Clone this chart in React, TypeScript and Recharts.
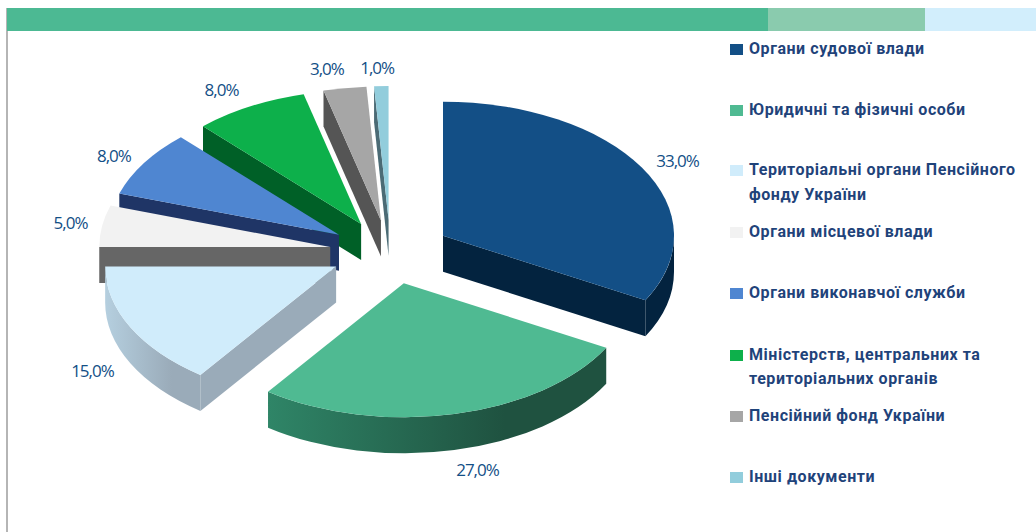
import { Legend, Pie, PieChart } from 'recharts';

const categories = [
  'Органи судової влади',
  'Юридичні та фізичні особи',
  'Територіальні органи Пенсійного фонду України',
  'Органи місцевої влади',
  'Органи виконавчої служби',
  'Міністерств, центральних та територіальних органів',
  'Пенсійний фонд України',
  'Інші документи',
];
const shares = [33, 27, 15, 5, 8, 8, 3, 1];
const topColors = ['#134f86', '#4fba92', '#d0ecfb', '#f2f2f2', '#4f86d1', '#0db04b', '#a6a6a6', '#92cddc'];
const wallColors = ['#03233f', '#1f5240', '#9aabb9', '#666666', '#1f3566', '#006027', '#555555', '#4b6b75'];
const rimColors = ['#03233f', '#2f8567', '#b5cfdf', '#666666', '#1f3566', '#006027', '#555555', '#4b6b75'];

// px tweaks, the source picture is not a perfect projection
const labelNudgeX = [3, 15, -4, 6, 2, -10, -12, -3];
const labelNudgeY = [3, 0, -2, 0, 3, 0, 0, 1];
const legendGaps = [36.5, 35.5, 12.5, 36.5, 37.5, 12.5, 36.5, 0];

const RX = 231;
const RY = 134;
const DEPTH = 36;
const EXPLODE_X = 61;
const EXPLODE_Y = 32;
const rad = (a: number) => (a * Math.PI) / 180;

// Pie paints in data order, the back slices have to go first
const pieData = categories
  .map((name, i) => ({ name, value: shares[i], index: i, fill: topColors[i] }))
  .reverse();

const Slice3D = (props: any) => {
  const { cx, cy, startAngle, endAngle, fill, payload } = props;
  const i = payload.index;
  const mid = rad((startAngle + endAngle) / 2);
  const ax = cx + EXPLODE_X * Math.cos(mid);
  const ay = cy - EXPLODE_Y * Math.sin(mid);
  const px = (a: number) => ax + RX * Math.cos(rad(a));
  const py = (a: number) => ay - RY * Math.sin(rad(a));
  const large = endAngle - startAngle > 180 ? 1 : 0;

  const top = `M${ax},${ay} L${px(startAngle)},${py(startAngle)} A${RX},${RY} 0 ${large} 0 ${px(endAngle)},${py(endAngle)} Z`;
  const wall = (a: number) =>
    `M${ax},${ay} L${px(a)},${py(a)} L${px(a)},${py(a) + DEPTH} L${ax},${ay + DEPTH} Z`;

  const rimFrom = Math.max(startAngle, 180);
  const rimTo = Math.min(endAngle, 360);
  const hasRim = rimTo > rimFrom;
  const rim = `M${px(rimFrom)},${py(rimFrom)} A${RX},${RY} 0 0 0 ${px(rimTo)},${py(rimTo)} L${px(rimTo)},${py(rimTo) + DEPTH} A${RX},${RY} 0 0 1 ${px(rimFrom)},${py(rimFrom) + DEPTH} Z`;
  const gradId = `rim-${i}`;

  return (
    <g>
      <defs>
        <linearGradient id={gradId} x1="0" y1="0" x2="1" y2="0">
          <stop offset="0%" stopColor={rimColors[i]} />
          <stop offset="70%" stopColor={wallColors[i]} />
        </linearGradient>
      </defs>
      {hasRim && <path d={rim} fill={`url(#${gradId})`} />}
      {Math.cos(rad(startAngle)) > 0.01 && <path d={wall(startAngle)} fill={wallColors[i]} />}
      {Math.cos(rad(endAngle)) < -0.01 && <path d={wall(endAngle)} fill={wallColors[i]} />}
      <path d={top} fill={fill} />
    </g>
  );
};

const renderLabel = (props: any) => {
  const { cx, cy, midAngle, payload } = props;
  const s = Math.sin(rad(midAngle));
  const c = Math.cos(rad(midAngle));
  const x = cx + (EXPLODE_X + RX + 38) * c + labelNudgeX[payload.index];
  const y = cy - (EXPLODE_Y + RY + 20) * s + (s < 0 ? DEPTH : 0) + labelNudgeY[payload.index];
  return (
    <text
      x={x}
      y={y}
      textAnchor="middle"
      dominantBaseline="central"
      fontFamily="Open Sans"
      fontSize={17}
      letterSpacing={-1}
      fill="#134f86"
    >
      {`${payload.value.toFixed(1).replace('.', ',')}%`}
    </text>
  );
};

const LegendList = ({ payload }: any) => (
  <div>
    {[...(payload ?? [])].reverse().map((entry: any, i: number) => (
      <div key={entry.value} style={{ display: 'flex', marginBottom: legendGaps[i] }}>
        <span
          style={{
            flex: 'none',
            width: 13,
            height: 11,
            marginTop: 7,
            marginRight: 6,
            background: entry.color,
          }}
        />
        <span
          style={{
            fontFamily: 'Roboto',
            fontWeight: 700,
            fontSize: 16,
            lineHeight: '24.5px',
            letterSpacing: 0.55,
            color: '#1f437a',
          }}
        >
          {entry.value}
        </span>
      </div>
    ))}
  </div>
);

export default function App() {
  return (
    <div style={{ position: 'absolute', left: 0, top: 0, width: 1036, height: 532, background: '#fff', overflow: 'hidden' }}>
      <div style={{ position: 'absolute', left: 6, top: 8, width: 2, height: 524, background: '#b5b5b5' }} />
      <div style={{ position: 'absolute', left: 7, top: 8, width: 761, height: 23, background: '#4cb993' }} />
      <div style={{ position: 'absolute', left: 768, top: 8, width: 157, height: 23, background: '#8acbae' }} />
      <div style={{ position: 'absolute', left: 925, top: 8, width: 111, height: 23, background: '#d2eefc' }} />
      <PieChart
        width={1036}
        height={532}
        margin={{ top: 0, right: 0, bottom: 0, left: 0 }}
        style={{ position: 'absolute', left: 0, top: 0 }}
      >
        <Pie
          data={pieData}
          dataKey="value"
          nameKey="name"
          cx={390.5}
          cy={252}
          outerRadius={RX}
          startAngle={90}
          endAngle={450}
          stroke="none"
          shape={Slice3D}
          label={renderLabel}
          labelLine={false}
          isAnimationActive={false}
        />
        <Legend
          content={<LegendList />}
          itemSorter={null}
          wrapperStyle={{ position: 'absolute', left: 730, top: 37, width: 290, right: 'auto', bottom: 'auto' }}
        />
      </PieChart>
    </div>
  );
}
